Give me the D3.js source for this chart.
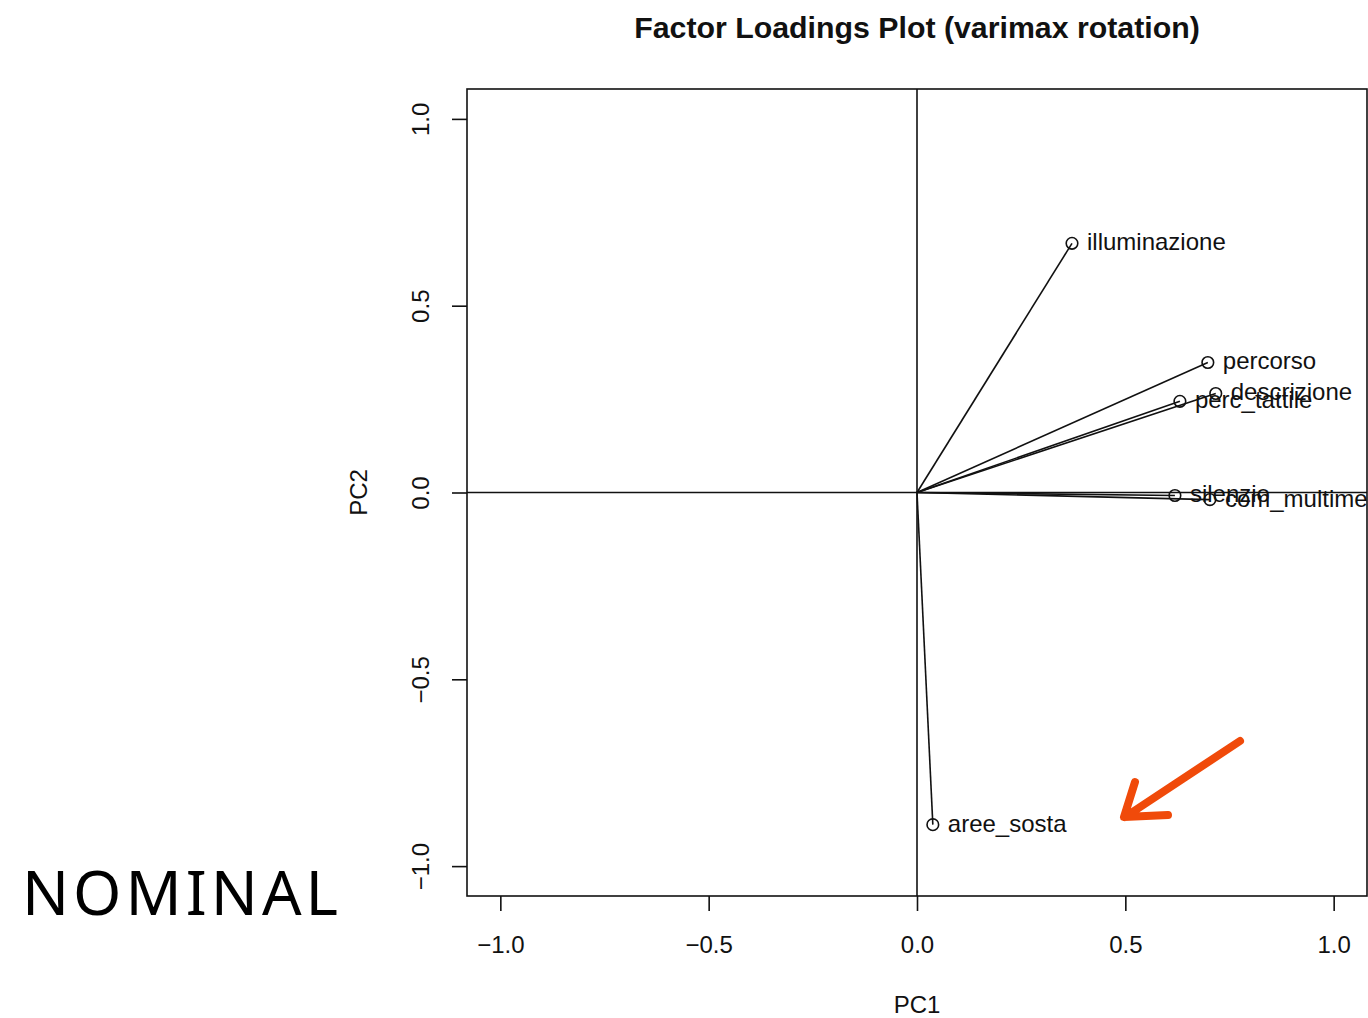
<!DOCTYPE html>
<html>
<head>
<meta charset="utf-8">
<script src="https://cdn.jsdelivr.net/npm/d3@7"></script>
<style>
  html, body { margin: 0; padding: 0; background: #fff; }
  svg { display: block; }
</style>
</head>
<body>
<div id="chart"></div>
<script>
// Data ----------------------------------------------
const variables = ["illuminazione", "percorso", "descrizione", "perc_tattile", "silenzio", "com_multimediale", "aree_sosta"];
const pc1 = [0.372, 0.698, 0.717, 0.631, 0.619, 0.703, 0.038];
const pc2 = [0.667, 0.348, 0.265, 0.244, -0.008, -0.019, -0.889];
const tickValues = [-1.0, -0.5, 0.0, 0.5, 1.0];

// Constants ----------------------------------------------
const width = 1368;
const height = 1018;
const plot = {left: 467, right: 1367, top: 89, bottom: 896};
const fontFamily = "'Liberation Sans', Arial, Helvetica, sans-serif";
const lineColor = "#111";
const lineWidth = 1.6;

// Scales ----------------------------------------------
const xScale = d3.scaleLinear().domain([-1.08, 1.08]).range([plot.left, plot.right]);
const yScale = d3.scaleLinear().domain([-1.08, 1.08]).range([plot.bottom, plot.top]);
const fmt = d3.format(".1f");

const svg = d3.select("#chart")
  .append("svg")
  .attr("width", width)
  .attr("height", height)
  .style("font-family", fontFamily);

svg.append("defs")
  .append("clipPath")
  .attr("id", "plotClip")
  .append("rect")
  .attr("x", plot.left)
  .attr("y", plot.top)
  .attr("width", plot.right - plot.left)
  .attr("height", plot.bottom - plot.top);

// Title
svg.append("text")
  .attr("x", (plot.left + plot.right) / 2)
  .attr("y", 38)
  .attr("text-anchor", "middle")
  .attr("font-size", 30.3)
  .attr("font-weight", "bold")
  .attr("fill", "#111")
  .text("Factor Loadings Plot (varimax rotation)");

// Axes
const xAxis = svg.append("g")
  .attr("transform", `translate(0,${plot.bottom})`)
  .call(d3.axisBottom(xScale).tickValues(tickValues).tickFormat(fmt).tickSize(15));
xAxis.select(".domain").remove();
xAxis.selectAll("line").attr("stroke", lineColor).attr("stroke-width", lineWidth);
xAxis.selectAll("text")
  .attr("font-size", 24)
  .attr("font-family", fontFamily)
  .attr("fill", "#111")
  .attr("dy", null)
  .attr("y", 57);

const yAxis = svg.append("g")
  .attr("transform", `translate(${plot.left},0)`)
  .call(d3.axisLeft(yScale).tickValues(tickValues).tickFormat(fmt).tickSize(15));
yAxis.select(".domain").remove();
yAxis.selectAll("line").attr("stroke", lineColor).attr("stroke-width", lineWidth);
yAxis.selectAll("text")
  .attr("font-size", 24)
  .attr("font-family", fontFamily)
  .attr("fill", "#111")
  .attr("x", null)
  .attr("dy", null)
  .attr("text-anchor", "middle")
  .attr("transform", "translate(-38,0) rotate(-90)");

// Axis titles
svg.append("text")
  .attr("x", (plot.left + plot.right) / 2)
  .attr("y", 1013)
  .attr("text-anchor", "middle")
  .attr("font-size", 24)
  .attr("fill", "#111")
  .text("PC1");

svg.append("text")
  .attr("transform", `translate(367,${yScale(0)}) rotate(-90)`)
  .attr("text-anchor", "middle")
  .attr("font-size", 24)
  .attr("fill", "#111")
  .text("PC2");

// Plot contents
const g = svg.append("g").attr("clip-path", "url(#plotClip)");

// reference lines at 0
g.append("line")
  .attr("x1", plot.left).attr("x2", plot.right)
  .attr("y1", yScale(0)).attr("y2", yScale(0))
  .attr("stroke", lineColor).attr("stroke-width", lineWidth);
g.append("line")
  .attr("x1", xScale(0)).attr("x2", xScale(0))
  .attr("y1", plot.top).attr("y2", plot.bottom)
  .attr("stroke", lineColor).attr("stroke-width", lineWidth);

const loadings = variables.map((v, i) => ({name: v, x: pc1[i], y: pc2[i]}));

// loading vectors
g.selectAll(".vec")
  .data(loadings)
  .enter()
  .append("line")
  .attr("class", "vec")
  .attr("x1", xScale(0))
  .attr("y1", yScale(0))
  .attr("x2", d => xScale(d.x))
  .attr("y2", d => yScale(d.y))
  .attr("stroke", lineColor)
  .attr("stroke-width", lineWidth);

// points
g.selectAll(".pt")
  .data(loadings)
  .enter()
  .append("circle")
  .attr("class", "pt")
  .attr("cx", d => xScale(d.x))
  .attr("cy", d => yScale(d.y))
  .attr("r", 5.8)
  .attr("fill", "none")
  .attr("stroke", lineColor)
  .attr("stroke-width", lineWidth);

// labels
g.selectAll(".lbl")
  .data(loadings)
  .enter()
  .append("text")
  .attr("class", "lbl")
  .attr("x", d => xScale(d.x) + 15)
  .attr("y", d => yScale(d.y) + 7)
  .attr("font-size", 24)
  .attr("fill", "#111")
  .text(d => d.name);

// box
svg.append("rect")
  .attr("x", plot.left)
  .attr("y", plot.top)
  .attr("width", plot.right - plot.left)
  .attr("height", plot.bottom - plot.top)
  .attr("fill", "none")
  .attr("stroke", lineColor)
  .attr("stroke-width", lineWidth);

// Annotations
svg.append("text")
  .attr("x", 22)
  .attr("y", 915)
  .attr("font-family", "'Noto Sans', 'Open Sans', sans-serif")
  .attr("font-size", 62)
  .attr("letter-spacing", 4)
  .attr("fill", "#000")
  .text("NOMINAL");

const arrowColor = "#F04A0A";
svg.append("path")
  .attr("d", "M1240,741 L1125,817 M1135,782 L1124,817 L1168,815")
  .attr("fill", "none")
  .attr("stroke", arrowColor)
  .attr("stroke-width", 8)
  .attr("stroke-linecap", "round")
  .attr("stroke-linejoin", "round");
</script>
</body>
</html>
